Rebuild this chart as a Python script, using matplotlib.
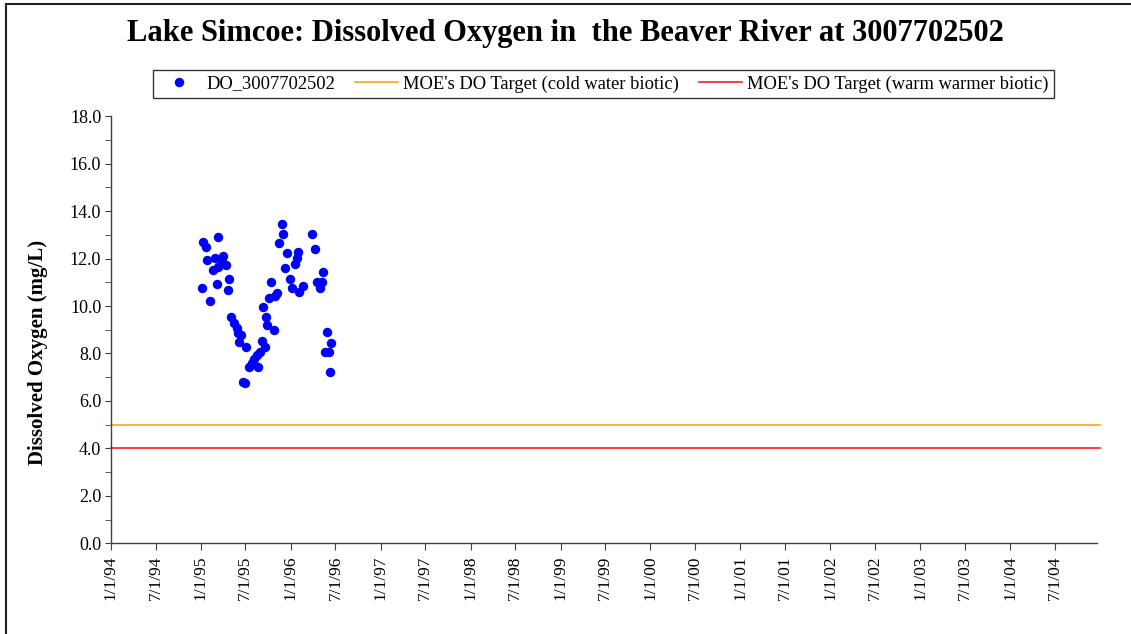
from matplotlib import pyplot as plt
from matplotlib.lines import Line2D
import matplotlib.dates as mdates
from matplotlib.ticker import MultipleLocator, FuncFormatter
import numpy as np
import pandas as pd

# DO samples
do_dates = [
    "1995-01-11", "1995-01-21", "1995-03-13", "1995-01-25", "1995-02-28", "1995-04-02",
    "1995-03-27", "1995-04-13", "1995-03-13", "1995-02-18", "1995-04-27", "1995-03-06",
    "1995-01-07", "1995-04-20", "1995-02-07", "1995-05-04", "1995-05-17", "1995-05-27",
    "1995-06-02", "1995-06-12", "1995-06-05", "1995-07-03", "1995-09-05", "1995-09-19",
    "1995-08-29", "1995-08-16", "1995-08-05", "1995-07-27", "1995-07-17", "1995-08-22",
    "1995-06-20", "1995-06-29",
    "1995-09-09", "1995-09-23", "1995-09-28", "1995-10-25", "1995-10-06", "1995-10-29",
    "1995-11-08", "1995-10-13", "1995-11-15", "1995-11-26", "1995-12-02", "1995-12-09",
    "1995-12-16", "1995-12-29", "1996-01-05", "1996-01-19", "1996-01-26", "1996-01-30",
    "1996-02-05", "1996-02-19", "1996-03-26", "1996-04-09", "1996-04-16", "1996-05-06",
    "1996-04-29", "1996-05-13", "1996-05-26", "1996-06-13", "1996-05-19", "1996-06-06",
    "1996-06-09",
]
do_values = [
    12.71, 12.48, 12.90, 11.94, 12.02, 12.11,
    11.87, 11.73, 11.66, 11.52, 11.14, 10.93,
    10.75, 10.68, 10.23, 9.53, 9.28, 9.06,
    8.85, 8.78, 8.50, 8.26, 8.54, 8.26,
    8.08, 7.94, 7.76, 7.59, 7.45, 7.45,
    6.81, 6.76,
    9.95, 9.55, 9.20, 8.99, 10.35, 10.43,
    10.54, 11.03, 12.65, 13.45, 13.04, 11.62,
    12.23, 11.14, 10.75, 11.76, 12.02, 12.29,
    10.61, 10.85, 13.04, 12.41, 11.03, 11.03,
    10.75, 11.43, 8.92, 8.46, 8.05, 8.05,
    7.23,
]

target_dates = ["1994-01-01", "2005-01-01"]
cold_target = [5.0, 5.0]
warm_target = [4.0, 4.0]

x_start, x_end = "1994-01-01", "2004-12-19"
title = "Lake Simcoe: Dissolved Oxygen in  the Beaver River at 3007702502"
serif = ["Liberation Serif", "DejaVu Serif"]

plt.rcParams["font.family"] = serif

fig = plt.figure(figsize=(11.31, 6.34), dpi=100, facecolor="white")
ax = fig.add_axes([0.0981, 0.1431, 0.8718, 0.6735])

dts = pd.to_datetime(do_dates)
ax.plot(dts, do_values, "o", color="#0000ff", markersize=6.8, markeredgewidth=0,
        label="DO_3007702502", zorder=3)
tdts = pd.to_datetime(target_dates)
ax.plot(tdts, cold_target, color="#ffa31a", lw=1.2, clip_on=False,
        label="MOE's DO Target (cold water biotic)")
ax.plot(tdts, warm_target, color="#ff1a1a", lw=1.2, clip_on=False,
        label="MOE's DO Target (warm warmer biotic)")

ax.set_xlim(pd.Timestamp(x_start), pd.Timestamp(x_end))
ax.set_ylim(0, 18)

ax.xaxis.set_major_locator(mdates.MonthLocator(bymonth=[1, 7]))
ax.xaxis.set_major_formatter(FuncFormatter(
    lambda v, p: "{}/{}/{:02d}".format(mdates.num2date(v).month, mdates.num2date(v).day,
                                       mdates.num2date(v).year % 100)))
ax.yaxis.set_major_locator(MultipleLocator(2))
ax.yaxis.set_minor_locator(MultipleLocator(1))
ax.yaxis.set_major_formatter(FuncFormatter(lambda v, p: f"{v:.1f}"))

for s in ["top", "right"]:
    ax.spines[s].set_visible(False)
for s in ["left", "bottom"]:
    ax.spines[s].set_color("#404040")
    ax.spines[s].set_linewidth(1.0)

ax.tick_params(axis="x", labelrotation=90, labelsize=12.5, length=5, color="#404040", pad=4)
ax.tick_params(axis="y", which="both", labelsize=13, length=4, color="#404040", pad=3)

# y label sits a bit below the axes centre in the original
fig.text(38 / 1131, 1 - 352 / 634, "Dissolved Oxygen (mg/L)", rotation=90,
         ha="center", va="center", fontsize=15, fontweight="bold")

fig.text(0.5, 1 - 34 / 634, title, ha="center", va="center", fontsize=22, fontweight="bold")

leg = ax.legend(loc="center", bbox_to_anchor=(603.5 / 1131, 1 - 84 / 634),
                bbox_transform=fig.transFigure, ncol=3, fontsize=13.3, numpoints=1,
                frameon=True, fancybox=False, edgecolor="black", handlelength=2.3,
                columnspacing=1.1, handletextpad=0.3, borderpad=0.3)
leg.get_frame().set_linewidth(1.0)

# outer chart border (only top and left edges are visible in the picture)
fig.add_artist(Line2D([6 / 1131, 1], [1 - 4 / 634, 1 - 4 / 634], color="#202020", lw=1.5,
                      transform=fig.transFigure))
fig.add_artist(Line2D([6 / 1131, 6 / 1131], [0, 1 - 4 / 634], color="#202020", lw=1.5,
                      transform=fig.transFigure))

plt.savefig("out.png", dpi=100)
plt.close()
